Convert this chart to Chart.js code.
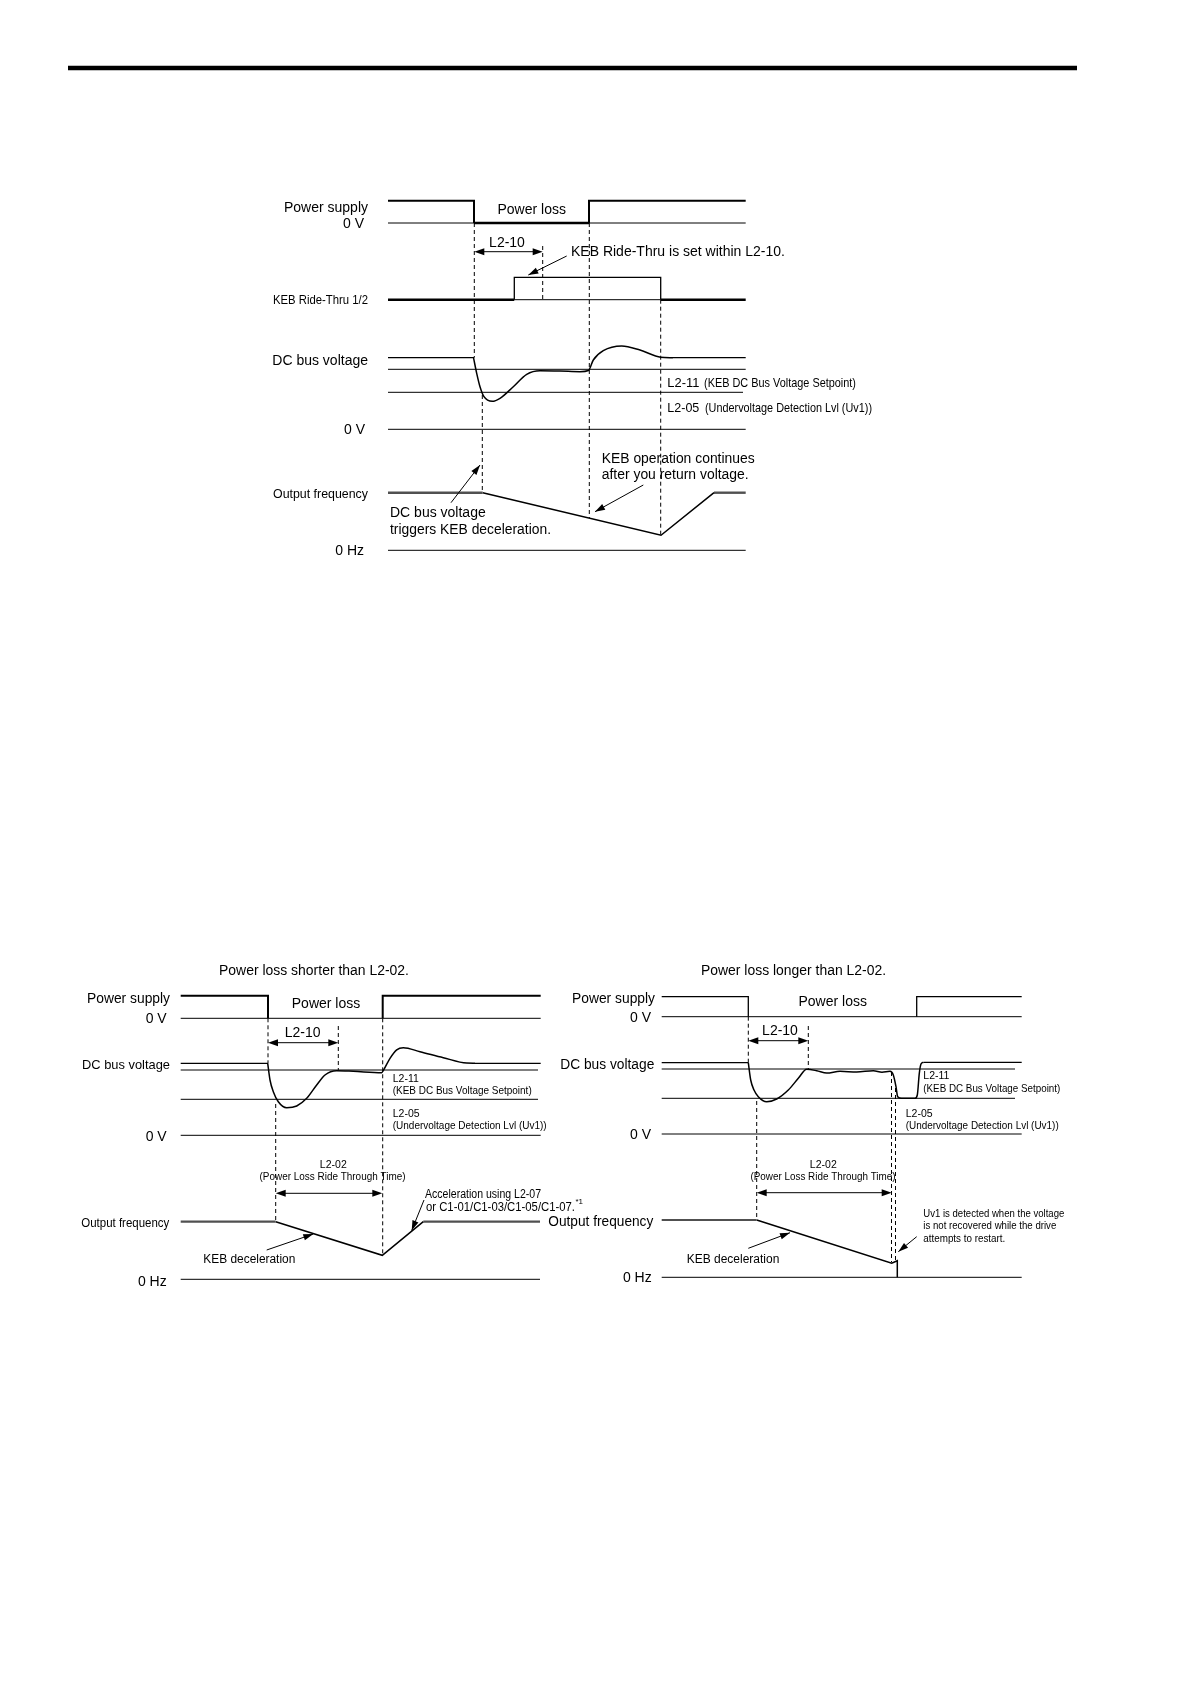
<!DOCTYPE html>
<html><head><meta charset="utf-8">
<script src="https://cdn.jsdelivr.net/npm/chart.js@4/dist/chart.umd.min.js"></script>
<style>html,body{margin:0;padding:0;background:#fff;}#wrap{position:relative;width:1191px;height:1684px;}canvas{display:block;}</style>
</head><body><div id="wrap"><canvas id="c" width="1191" height="1684"></canvas></div>
<script>
// ---------- DATA (diagram units) ----------
const headerRule = [[68,68],[1077,68]];

// Top diagram
const topPsHigh1 = [[388,200.7],[474,200.7],[474,223]];
const topPsLow   = [[474,223],[589,223]];
const topPsHigh2 = [[589,223],[589,200.7],[745.7,200.7]];
const topZeroV1  = [[388,223],[745.7,223]];
const topKebLow1 = [[388,299.7],[514.3,299.7]];
const topKebPulse= [[514.3,299.7],[514.3,277.3],[660.7,277.3],[660.7,299.7]];
const topKebBase = [[514.3,299.7],[660.7,299.7]];
const topKebLow2 = [[660.7,299.7],[745.7,299.7]];
const topDcHigh1 = [[388,357.7],[474,357.7]];
const topL211    = [[388,369.3],[745.7,369.3]];
const topL205    = [[388,392.3],[743,392.3]];
const topZeroV2  = [[388,429.3],[745.7,429.3]];
const topDcCurve = [[473.5,357.7],[476.7,373.3],[480,386.7],[484,396.7],[492.3,401.3],[500,398.3],[513.3,386.7],[526.7,374.3],[540,370.7],[560,371],[580,371.7],[588.5,370.5],[593.3,360],[603.3,350.7],[621.7,346],[640,350],[660.7,357.2],[673,357.7]];
const topDcHigh2 = [[673,357.7],[745.7,357.7]];
const topFreqFlat1 = [[388,492.7],[482.7,492.7]];
const topFreqRamp  = [[482.7,492.7],[661,535.3],[714,492.7]];
const topFreqFlat2 = [[714,492.7],[745.7,492.7]];
const topZeroHz  = [[388,550.3],[745.7,550.3]];
const topDashed  = [
  [[474.3,223],[474.3,357.7]],
  [[482.3,395],[482.3,492.7]],
  [[542.7,246],[542.7,299.7]],
  [[589.3,223],[589.3,518]],
  [[660.7,299.7],[660.7,535.3]]
];

// Bottom-left diagram (power loss shorter than L2-02)
const blPsHigh1 = [[180.7,995.7],[268,995.7],[268,1018.3]];
const blPsHigh2 = [[382.7,1018.3],[382.7,995.7],[540.7,995.7]];
const blZeroV1  = [[180.7,1018.3],[540.7,1018.3]];
const blDcHigh1 = [[180.7,1063.3],[268,1063.3]];
const blL211    = [[180.7,1070],[538,1070]];
const blL205    = [[180.7,1099.3],[538,1099.3]];
const blZeroV2  = [[180.7,1135.3],[540.7,1135.3]];
const blDcCurve = [[267.7,1063.3],[270,1080],[273.3,1091.7],[278.3,1101.7],[286.7,1107.7],[296.7,1106],[306.7,1098.3],[316.7,1085],[325,1075],[336.7,1070.7],[353.3,1071.3],[381.7,1072.7],[383.6,1070],[390,1058.3],[396.7,1049.8],[403.3,1047.7],[420,1051.7],[443.3,1057.7],[466.7,1063.1],[475,1063.3]];
const blDcHigh2 = [[475,1063.3],[540.7,1063.3]];
const blFreqFlat1 = [[180.7,1221.7],[275.7,1221.7]];
const blFreqRamp  = [[275.7,1221.7],[382.3,1255.3],[423.3,1221.7]];
const blFreqFlat2 = [[423.3,1221.7],[540,1221.7]];
const blZeroHz  = [[180.7,1279.3],[540,1279.3]];
const blDashed  = [
  [[268,1018.3],[268,1063.3]],
  [[338.3,1026],[338.3,1070]],
  [[275.7,1104],[275.7,1221.7]],
  [[382.7,1018.3],[382.7,1255.3]]
];

// Bottom-right diagram (power loss longer than L2-02)
const brPsHigh1 = [[661.7,996.7],[748.3,996.7],[748.3,1016.7]];
const brPsHigh2 = [[916.7,1016.7],[916.7,996.7],[1021.7,996.7]];
const brZeroV1  = [[661.7,1016.7],[1021.7,1016.7]];
const brDcHigh1 = [[661.7,1062.7],[748.3,1062.7]];
const brL211    = [[661.7,1069],[1015,1069]];
const brL205    = [[661.7,1098.3],[1015,1098.3]];
const brZeroV2  = [[661.7,1134],[1021.7,1134]];
const brDcCurve = [[748.3,1062.7],[750.7,1080],[754,1090],[758.3,1096.7],[766.7,1101.7],[776.7,1099],[788.3,1090],[798.3,1078.3],[806.7,1069.3],[816.7,1070.7],[826.7,1073],[840,1071.3],[856.7,1072],[873.3,1070.7],[882,1072.2],[890,1071.3],[893.3,1075],[896,1086.7],[897.7,1096.7],[901.7,1098.3],[915,1098.3],[917.3,1095],[919.3,1073.3],[921,1064],[923.3,1062.3]];
const brDcHigh2 = [[923.3,1062.3],[1021.7,1062.3]];
const brFreqFlat1 = [[661.7,1220],[756.7,1220]];
const brFreqRamp  = [[756.7,1220],[891.7,1263.3],[897.3,1260.7],[897.3,1277.3]];
const brZeroHz  = [[661.7,1277.3],[1021.7,1277.3]];
const brDashed  = [
  [[748.3,1016.7],[748.3,1062.7]],
  [[808.3,1026],[808.3,1069]],
  [[756.7,1101],[756.7,1220]],
  [[891.5,1072],[891.5,1262]],
  [[895.5,1088],[895.5,1260]]
];

// ---------- LAYOUT / STYLE ----------
const BLACK='#000', GRAY='#505050';
function ds(pts, w, color, dash, smooth){
  return {data: pts.map(p=>({x:p[0],y:p[1]})), showLine:true, borderColor:color||BLACK, borderWidth:w,
    borderDash:dash||[], pointRadius:0, pointHoverRadius:0, fill:false, clip:false,
    borderJoinStyle:'miter', cubicInterpolationMode: smooth?'monotone':'default', tension:0};
}
const DASH=[4,3];
const datasets = [
  ds(headerRule,4.5),
  ds(topZeroV1,1), ds(topPsHigh1,2), ds(topPsLow,2.6), ds(topPsHigh2,2),
  ds(topKebBase,1), ds(topKebLow1,2.6), ds(topKebPulse,1.3), ds(topKebLow2,2.6),
  ds(topDcHigh1,1.3), ds(topL211,1), ds(topL205,1), ds(topZeroV2,1),
  ds(topDcCurve,1.5,BLACK,null,true), ds(topDcHigh2,1.3),
  ds(topFreqFlat1,2.4,GRAY), ds(topFreqRamp,1.5), ds(topFreqFlat2,2.4,GRAY), ds(topZeroHz,1),
  ...topDashed.map(d=>ds(d,1,BLACK,DASH)),
  ds(blZeroV1,1), ds(blPsHigh1,2), ds(blPsHigh2,2),
  ds(blDcHigh1,1.2), ds(blL211,1), ds(blL205,1), ds(blZeroV2,1),
  ds(blDcCurve,1.5,BLACK,null,true), ds(blDcHigh2,1.2),
  ds(blFreqFlat1,2.2,GRAY), ds(blFreqRamp,1.5), ds(blFreqFlat2,2.2,GRAY), ds(blZeroHz,1),
  ...blDashed.map(d=>ds(d,1,BLACK,DASH)),
  ds(brZeroV1,1), ds(brPsHigh1,1.3), ds(brPsHigh2,1.3),
  ds(brDcHigh1,1.2), ds(brL211,1), ds(brL205,1), ds(brZeroV2,1),
  ds(brDcCurve,1.5,BLACK,null,true), ds(brDcHigh2,1.2),
  ds(brFreqFlat1,2.2,GRAY), ds(brFreqRamp,1.5), ds(brZeroHz,1),
  ...brDashed.map(d=>ds(d,1,BLACK,DASH))
];

// text labels: [text, x, baselineY, align, size, fitWidth]
const FONT = '"Liberation Sans", Arial, Helvetica, sans-serif';
const labels = [
  ['Power supply',368,211.5,'right',14],
  ['0 V',364,227.5,'right',14],
  ['Power loss',531.7,214.3,'center',14],
  ['L2-10',507,246.7,'center',14],
  ['KEB Ride-Thru is set within L2-10.',571,256,'left',14],
  ['KEB Ride-Thru 1/2',368,304,'right',13.5,95],
  ['DC bus voltage',368,365,'right',14],
  ['L2-11',667.3,386.7,'left',13.5,32],
  ['(KEB DC Bus Voltage Setpoint)',704,386.7,'left',13.5,152],
  ['L2-05',667.3,411.7,'left',13.5,32],
  ['(Undervoltage Detection Lvl (Uv1))',705,411.7,'left',13.5,167],
  ['0 V',365,434,'right',14],
  ['KEB operation continues',601.7,462.7,'left',14,153],
  ['after you return voltage.',601.7,479.3,'left',14,147],
  ['Output frequency',368,498.3,'right',13.5,95],
  ['DC bus voltage',390,516.7,'left',14],
  ['triggers KEB deceleration.',390,534,'left',14,161],
  ['0 Hz',364,555,'right',14],

  ['Power loss shorter than L2-02.',219,975,'left',14,190],
  ['Power supply',170,1002.7,'right',13.8,83],
  ['0 V',166.7,1022.7,'right',14],
  ['Power loss',326,1008.3,'center',14],
  ['L2-10',302.7,1036.7,'center',14],
  ['DC bus voltage',170,1069,'right',13.2,88],
  ['L2-11',392.7,1081.7,'left',10.5],
  ['(KEB DC Bus Voltage Setpoint)',392.7,1094,'left',10.5,139],
  ['L2-05',392.7,1116.7,'left',10.5],
  ['(Undervoltage Detection Lvl (Uv1))',392.7,1128.5,'left',10.5,154],
  ['0 V',166.7,1140.7,'right',14],
  ['L2-02',333.3,1168.3,'center',10.5],
  ['(Power Loss Ride Through Time)',332.5,1180,'center',10.5,146],
  ['Acceleration using L2-07',425,1198.3,'left',12,116],
  ['or C1-01/C1-03/C1-05/C1-07.',426,1210.7,'left',12,149],
  ['*1',575.5,1203.5,'left',8],
  ['Output frequency',169.3,1227.3,'right',13,88],
  ['KEB deceleration',203.3,1263.3,'left',12,92],
  ['0 Hz',166.7,1285.7,'right',14],

  ['Power loss longer than L2-02.',701,975,'left',14,185],
  ['Power supply',655,1003.3,'right',14,83],
  ['0 V',651,1021.7,'right',14],
  ['Power loss',832.7,1005.7,'center',14],
  ['L2-10',780,1035,'center',14],
  ['DC bus voltage',654.3,1069,'right',14,94],
  ['L2-11',923.3,1079.3,'left',10.5],
  ['(KEB DC Bus Voltage Setpoint)',923.3,1091.7,'left',10.5,137],
  ['L2-05',905.7,1116.7,'left',10.5],
  ['(Undervoltage Detection Lvl (Uv1))',905.7,1128.5,'left',10.5,153],
  ['0 V',651,1139,'right',14],
  ['L2-02',823.3,1168.3,'center',10.5],
  ['(Power Loss Ride Through Time)',823,1180,'center',10.5,145],
  ['Output frequency',653.3,1226,'right',14,105],
  ['Uv1 is detected when the voltage',923.3,1216.7,'left',10,141],
  ['is not recovered while the drive',923.3,1229,'left',10,133],
  ['attempts to restart.',923.3,1241.7,'left',10,82],
  ['KEB deceleration',686.7,1263.3,'left',12,92.6],
  ['0 Hz',651.7,1281.7,'right',14]
];
// double-headed span arrows: [x1, x2, y]
const spans = [[474.3,542.7,251.7],[268,338.3,1042.7],[748.3,808.3,1040.7],[275.7,382.3,1193.3],[756.7,891.7,1192.7]];
// pointer arrows: [fromX, fromY, toX, toY]
const pointers = [[566.7,256,528.3,275],[451,502.7,480,465],[643.3,485,595,511.7],
  [266.7,1250,313.3,1234],[424,1200,411.7,1230.5],[748.3,1248.3,790,1232.7],[916.7,1236.7,898.3,1251.7]];

const annot = {
  id:'annot',
  afterDatasetsDraw(chart){
    const ctx=chart.ctx, sx=chart.scales.x, sy=chart.scales.y;
    const X=v=>sx.getPixelForValue(v), Y=v=>sy.getPixelForValue(v);
    ctx.save();
    ctx.fillStyle=BLACK; ctx.strokeStyle=BLACK;
    ctx.textBaseline='alphabetic';
    for(const [t,x,y,al,size,fw] of labels){
      ctx.font = size+'px '+FONT;
      const m = ctx.measureText(t).width;
      const k = fw ? fw/m : 1;
      const px=X(x), py=Y(y);
      ctx.save();
      ctx.translate(px,py); ctx.scale(k,1);
      ctx.textAlign=al;
      ctx.fillText(t,0,0);
      ctx.restore();
    }
    function head(tx,ty,fx,fy,len,hw){
      const a=Math.atan2(ty-fy,tx-fx);
      ctx.beginPath();
      ctx.moveTo(tx,ty);
      ctx.lineTo(tx-len*Math.cos(a)+hw*Math.sin(a), ty-len*Math.sin(a)-hw*Math.cos(a));
      ctx.lineTo(tx-len*Math.cos(a)-hw*Math.sin(a), ty-len*Math.sin(a)+hw*Math.cos(a));
      ctx.closePath(); ctx.fill();
    }
    ctx.lineWidth=1;
    for(const [x1,x2,y] of spans){
      const a=X(x1), b=X(x2), yy=Y(y);
      ctx.beginPath(); ctx.moveTo(a+4,yy); ctx.lineTo(b-4,yy); ctx.stroke();
      head(a,yy,b,yy,10,3.5); head(b,yy,a,yy,10,3.5);
    }
    for(const [fx,fy,tx,ty] of pointers){
      const a=X(fx),b=Y(fy),c=X(tx),d=Y(ty);
      ctx.beginPath(); ctx.moveTo(a,b); ctx.lineTo(c,d); ctx.stroke();
      head(c,d,a,b,10,3.2);
    }
    ctx.restore();
  }
};

new Chart(document.getElementById('c'), {
  type:'scatter',
  data:{datasets},
  options:{
    responsive:false, animation:false, devicePixelRatio:1,
    layout:{padding:0},
    events:[],
    scales:{
      x:{type:'linear',min:0,max:1191,display:false,bounds:'data'},
      y:{type:'linear',min:0,max:1684,reverse:true,display:false}
    },
    plugins:{legend:{display:false},tooltip:{enabled:false},title:{display:false}}
  },
  plugins:[annot]
});
</script></body></html>
